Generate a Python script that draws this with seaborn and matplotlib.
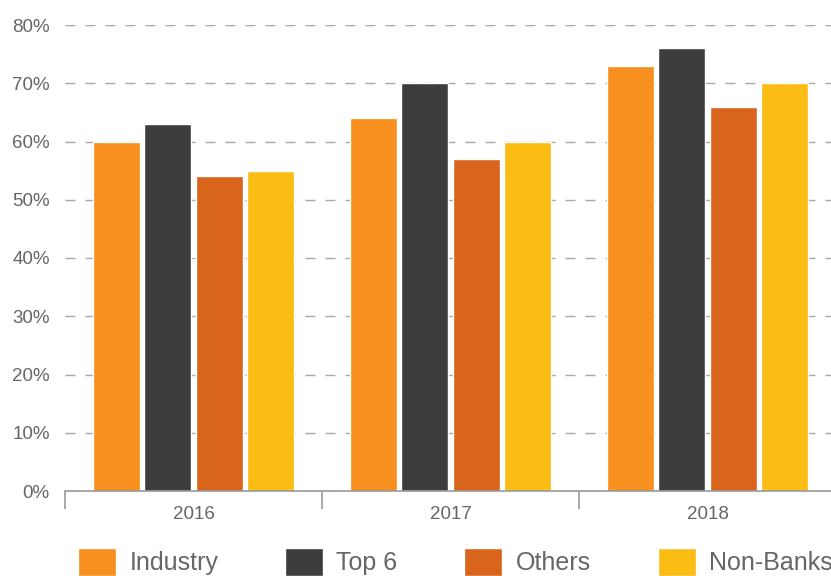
import numpy as np
import pandas as pd
import matplotlib
matplotlib.use("Agg")
import matplotlib.pyplot as plt
import seaborn as sns
from matplotlib.ticker import FixedLocator, PercentFormatter

years = ["2016", "2017", "2018"]
groups = ["Industry", "Top 6", "Others", "Non-Banks"]
industry = [60, 64, 73]
top6 = [63, 70, 76]
others = [54, 57, 66]
non_banks = [55, 60, 70]
colors = ["#F7901E", "#3D3D3D", "#D9641C", "#FBBC13"]

df = pd.DataFrame({
    "year": years * 4,
    "group": [g for g in groups for _ in years],
    "value": industry + top6 + others + non_banks,
})

sns.set_style("white")
plt.rcParams["font.family"] = ["Liberation Sans", "DejaVu Sans"]

fig = plt.figure(figsize=(8.31, 5.76), dpi=100)
ax = fig.add_axes([65 / 831, 85 / 576, 771 / 831, 466 / 576])

# dashed horizontal grid behind the bars
for y in range(10, 90, 10):
    ax.axhline(y, color="#a8a8a8", lw=1, dashes=(7.2, 7.2), zorder=0)

sns.barplot(data=df, x="year", y="value", hue="group", hue_order=groups,
            palette=colors, width=0.8, gap=0.08, saturation=1, ax=ax, zorder=2)

ax.set_ylim(0, 80)
ax.set_xlim(-0.5, 2.5)
ax.set_yticks(range(0, 90, 10))
ax.yaxis.set_major_formatter(PercentFormatter(decimals=0))
ax.set_xlabel("")
ax.set_ylabel("")

for s in ["top", "right", "left"]:
    ax.spines[s].set_visible(False)
ax.spines["bottom"].set_color("#999999")
ax.spines["bottom"].set_linewidth(1.2)

ax.tick_params(axis="y", length=0, labelsize=13.5, labelcolor="#666666", pad=11)
ax.tick_params(axis="x", which="major", length=0, labelsize=13.5,
               labelcolor="#666666", pad=11)
ax.xaxis.set_minor_locator(FixedLocator([-0.5, 0.5, 1.5, 2.5]))
ax.tick_params(axis="x", which="minor", length=13, width=1.2, color="#999999",
               direction="out", bottom=True)

handles, labels = ax.get_legend_handles_labels()
ax.legend_.remove()
fig.legend(handles, labels, loc="center", bbox_to_anchor=(0.548, 14 / 576),
           ncol=4, frameon=False, fontsize=18, labelcolor="#666666",
           handlelength=1.52, handleheight=1.36, handletextpad=0.52,
           columnspacing=2.68, borderaxespad=0, borderpad=0)

fig.savefig("out.png", dpi=100)
